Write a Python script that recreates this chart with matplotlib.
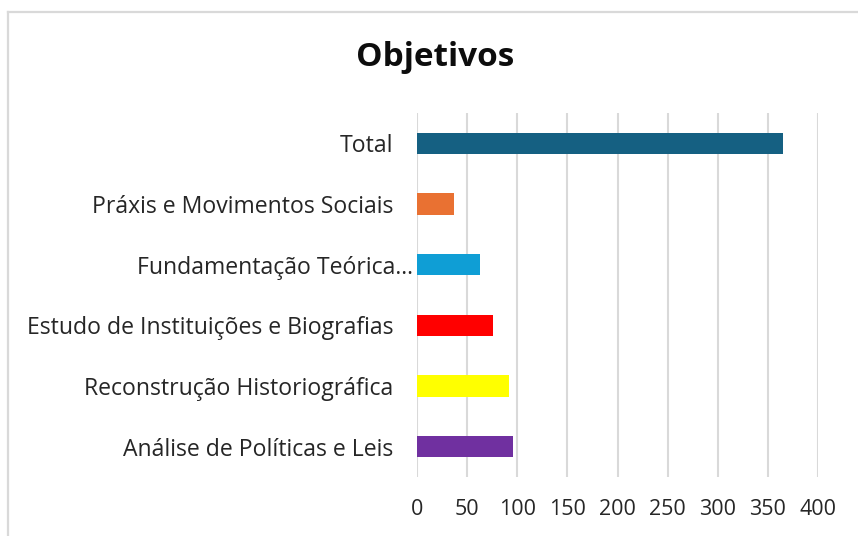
import matplotlib
matplotlib.use("Agg")
import matplotlib.pyplot as plt
import matplotlib.transforms as mtransforms
from matplotlib.lines import Line2D

# data (bottom to top)
categories = [
    "Análise de Políticas e Leis",
    "Reconstrução Historiográfica",
    "Estudo de Instituições e Biografias",
    "Fundamentação Teórica...",
    "Práxis e Movimentos Sociais",
    "Total",
]
values = [96, 92, 76, 63, 37, 365]
colors = ["#7030A0", "#FFFF00", "#FF0000", "#0F9ED5", "#E97132", "#156082"]
xticks = [0, 50, 100, 150, 200, 250, 300, 350, 400]

plt.rcParams["font.family"] = ["Open Sans", "DejaVu Sans"]

W, H = 858, 536
fig = plt.figure(figsize=(W / 100, H / 100), dpi=100)
ax = fig.add_axes([417 / W, 1 - 477 / H, (818 - 417) / W, (477 - 113) / H])

ypos = list(range(len(categories)))
ax.barh(ypos, values, height=0.35, color=colors, zorder=3)

ax.set_xlim(0, 400)
ax.set_ylim(-0.5, len(categories) - 0.5)
ax.set_xticks(xticks)
ax.set_yticks(ypos)
ax.set_yticklabels(categories)
ax.grid(axis="x", color="#d9d9d9", linewidth=1.5, zorder=0)
for s in ax.spines.values():
    s.set_visible(False)
ax.tick_params(axis="both", length=0, colors="#262626")
ax.tick_params(axis="y", pad=17, labelsize=16.6)
ax.tick_params(axis="x", pad=16, labelsize=15.5)

# the truncated label sits closer to the bars in the original
lab = ax.get_yticklabels()[3]
lab.set_transform(lab.get_transform() + mtransforms.ScaledTranslation(20 / 100, 0, fig.dpi_scale_trans))

fig.text(435 / W, 1 - 57 / H, "Objetivos", ha="center", va="center",
         fontsize=24, fontweight="bold", color="#0d0d0d")

# chart frame (cut off at right and bottom)
x0, y0 = 7.5 / W, 1 - 11.5 / H
fig.add_artist(Line2D([x0, x0], [y0, -0.1], color="#d9d9d9", linewidth=1.6, transform=fig.transFigure))
fig.add_artist(Line2D([x0, 1.1], [y0, y0], color="#d9d9d9", linewidth=1.6, transform=fig.transFigure))

fig.savefig("out.png", dpi=100)
